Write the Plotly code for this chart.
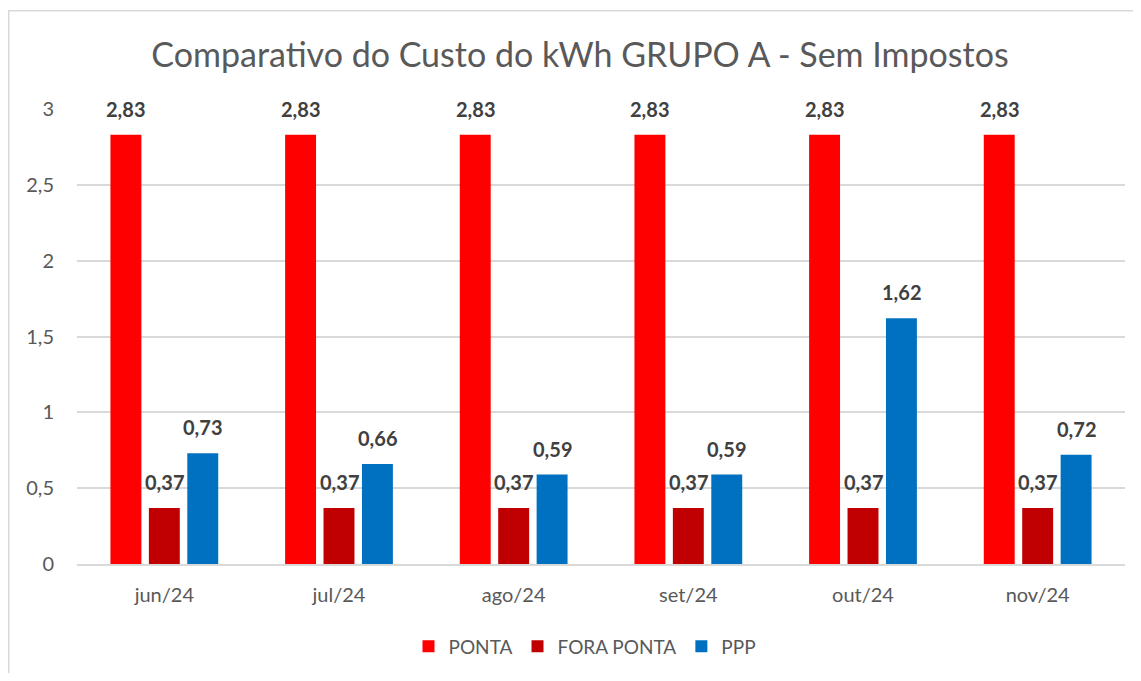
import plotly.graph_objects as go

categories = ["jun/24", "jul/24", "ago/24", "set/24", "out/24", "nov/24"]
ponta = [2.83, 2.83, 2.83, 2.83, 2.83, 2.83]
fora_ponta = [0.37, 0.37, 0.37, 0.37, 0.37, 0.37]
ppp = [0.73, 0.66, 0.59, 0.59, 1.62, 0.72]

series = [
    ("PONTA", ponta, "#FF0000", -38.5),
    ("FORA PONTA", fora_ponta, "#C00000", 0),
    ("PPP", ppp, "#0070C0", 38.5),
]

FONT = "Lato"
fig = go.Figure()
annotations = []
for name, vals, color, dx in series:
    fig.add_trace(go.Bar(
        name=name, x=categories, y=vals,
        marker=dict(color=color, line=dict(width=0)),
    ))
    for c, v in zip(categories, vals):
        annotations.append(dict(
            x=c, y=v, xref="x", yref="y", text=f"{v:.2f}".replace(".", ","),
            showarrow=False, xshift=dx, yshift=26, yanchor="middle",
            font=dict(family=FONT, size=20, color="#404040", weight="bold"),
        ))

# page offset of the figure (browser body margin)
OFF = 8
W, H = 1125, 665
# target plot area in page pixels: x 77..1125, y 109..567
L = 77 - OFF
R = W - (1125 - OFF)
T = 109 - OFF
B = H - (568 - OFF)
pw, ph = W - L - R, H - T - B

def px_x(px):
    return (px - OFF - L) / pw

def px_y(py):
    return (H - B - (py - OFF)) / ph

fig.update_layout(
    width=W, height=H,
    margin=dict(l=L, r=R, t=T, b=B),
    paper_bgcolor="white", plot_bgcolor="white",
    separators=",.",
    barmode="group", bargap=0.34, bargroupgap=0.195,
    title=dict(
        text="Comparativo do Custo do kWh GRUPO A - Sem Impostos",
        x=px_x(580), xanchor="center", xref="paper",
        y=1 - (55 - OFF) / H, yanchor="middle",
        font=dict(family=FONT, size=34, color="#595959"),
    ),
    font=dict(family=FONT, color="#595959"),
    xaxis=dict(
        showgrid=False, showline=True, linecolor="#D9D9D9", linewidth=1.5,
        ticks="", ticklabelstandoff=12,
        tickfont=dict(family=FONT, size=20, color="#595959"),
    ),
    yaxis=dict(
        range=[0, 3], dtick=0.5, showgrid=True, gridcolor="#D9D9D9",
        gridwidth=1.5, zeroline=False, showline=False, ticks="",
        ticklabelstandoff=22,
        tickfont=dict(family=FONT, size=20, color="#595959"),
    ),
    legend=dict(
        orientation="h", x=px_x(585), xanchor="center",
        y=px_y(651), yanchor="middle",
        font=dict(family=FONT, size=19, color="#595959"),
        itemwidth=30, traceorder="normal",
    ),
    annotations=annotations,
    shapes=[dict(
        type="rect", xref="paper", yref="paper",
        x0=px_x(8.75), x1=px_x(1170),
        y0=px_y(720), y1=px_y(10),
        line=dict(color="#D9D9D9", width=1.5), fillcolor="rgba(0,0,0,0)",
        layer="below",
    )],
)

fig.write_html("out.html")
